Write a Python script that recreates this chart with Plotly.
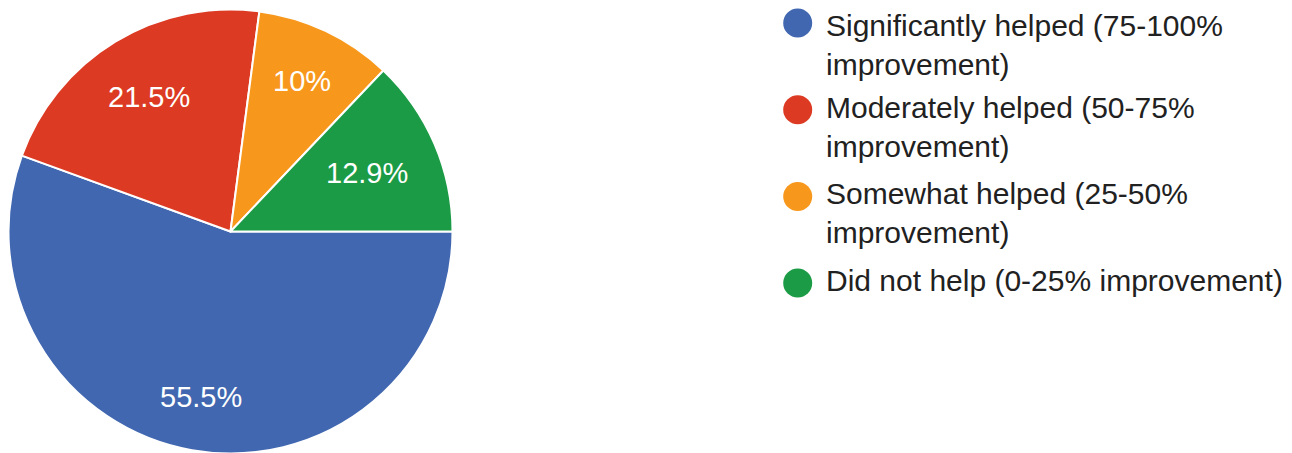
import math
import plotly.graph_objects as go

# ---- data ----
categories = [
    "Significantly helped (75-100%<br>improvement)",
    "Moderately helped (50-75%<br>improvement)",
    "Somewhat helped (25-50%<br>improvement)",
    "Did not help (0-25% improvement)",
]
values = [55.5, 21.5, 10, 12.9]
colors = ["#4067b0", "#dc3a22", "#f7981d", "#1b9b45"]

# ---- layout constants (figure pixel coords; page body adds 8px offset) ----
W, H = 1292, 453
PCX, PCY, PR = 222.5, 223.5, 222.0      # pie centre / radius in figure px
START = 90.0                             # first slice starts at 3 o'clock
label_radius = [0.757, 0.71, 0.75, 0.67] # radial placement of slice labels

FONT = "Liberation Sans, Arial, Helvetica, sans-serif"

fig = go.Figure()
fig.add_trace(go.Pie(
    labels=[c.replace("<br>", " ") for c in categories],
    values=values,
    sort=False,
    direction="clockwise",
    rotation=START,
    marker=dict(colors=colors, line=dict(color="white", width=2)),
    textinfo="none",
    domain=dict(x=[(PCX - PR) / W, (PCX + PR) / W],
                y=[(H - PCY - PR) / H, (H - PCY + PR) / H]),
    showlegend=False,
    hoverinfo="label+percent",
))

annotations = []
shapes = []

# slice labels, positioned from the slice angles
total = sum(values)
acc = 0.0
for v, rf in zip(values, label_radius):
    mid = START + (acc + v / 2) / total * 360.0
    acc += v
    th = math.radians(mid)
    x = PCX + rf * PR * math.sin(th)
    y = PCY - rf * PR * math.cos(th)
    annotations.append(dict(
        xref="paper", yref="paper", x=x / W, y=1 - y / H,
        xanchor="center", yanchor="middle",
        text=f"{v:g}%", showarrow=False,
        font=dict(family=FONT, size=29, color="white"),
    ))

# ---- custom legend (circle markers + text) ----
cx, r = 789.7, 14.5
tx = 817
for i, (cat, col) in enumerate(zip(categories, colors)):
    cy = 15.0 + 86.7 * i
    shapes.append(dict(
        type="circle", xref="paper", yref="paper",
        x0=(cx - r) / W, x1=(cx + r) / W,
        y0=1 - (cy + r) / H, y1=1 - (cy - r) / H,
        fillcolor=col, line=dict(width=0),
    ))
    top = max(0.0, cy - 20)
    annotations.append(dict(
        xref="paper", yref="paper",
        x=tx / W, y=1 - top / H,
        xanchor="left", yanchor="top", align="left",
        text=cat, showarrow=False, borderpad=0,
        font=dict(family=FONT, size=30, color="#212121"),
    ))

fig.update_layout(
    width=W, height=H,
    margin=dict(l=0, r=0, t=0, b=0),
    paper_bgcolor="white", plot_bgcolor="white",
    shapes=shapes, annotations=annotations,
    showlegend=False,
)

fig.write_html("out.html")
